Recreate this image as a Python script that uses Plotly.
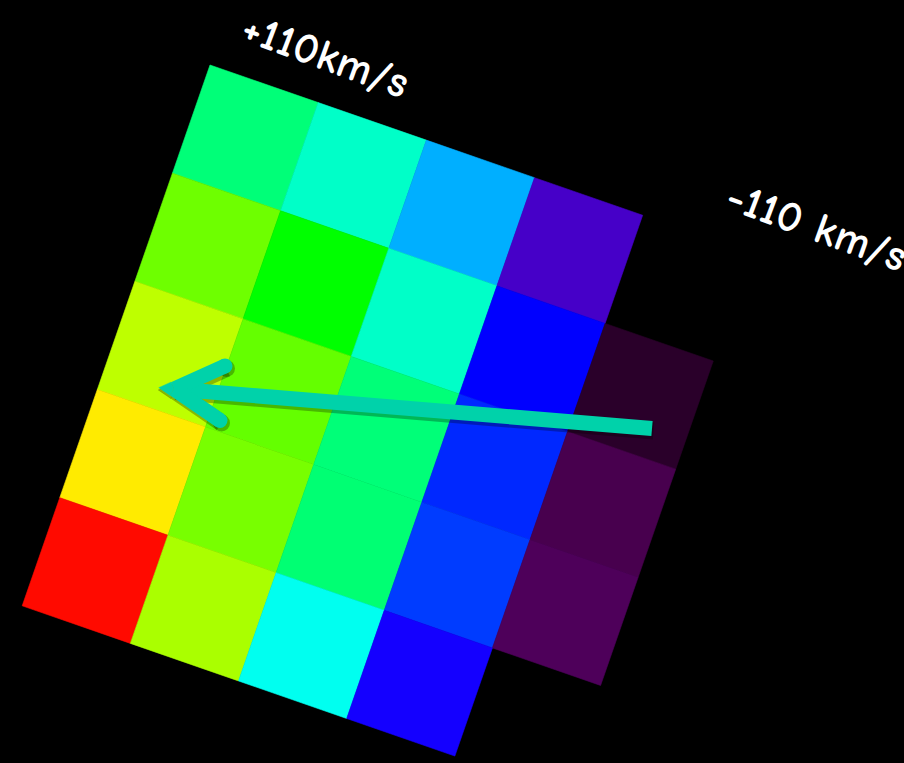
import numpy as np
import plotly.graph_objects as go

W, H = 904, 763

# Velocity-field cell colours, one list per grid row (None = empty cell)
row0 = ["#00FF78", "#00FFC8", "#00AFFF", "#4600C8", None]
row1 = ["#6EFF00", "#00FF00", "#00FFC8", "#0000FF", "#2A002A"]
row2 = ["#BEFF00", "#64FF00", "#00FF78", "#0028FF", "#48004E"]
row3 = ["#FFEB00", "#78FF00", "#00FF73", "#003CFF", "#4E005A"]
row4 = ["#FF0A00", "#AAFF00", "#00FFF0", "#1400FF", None]
grid_rows = [row0, row1, row2, row3, row4]

labels = ["+110km/s", "-110 km/s"]

# Grid placement: origin corner, cell size and tilt of the rotated map
origin = np.array([210.0, 65.0])
cell = 114.5
tilt = np.deg2rad(19.15)
col_vec = cell * np.array([np.cos(tilt), np.sin(tilt)])
row_vec = cell * np.array([-np.sin(tilt), np.cos(tilt)])


def corner(i, j):
    return origin + i * col_vec + j * row_vec


fig = go.Figure()

for j, row in enumerate(grid_rows):
    for i, color in enumerate(row):
        if color is None:
            continue
        pts = [corner(i, j), corner(i + 1, j), corner(i + 1, j + 1),
               corner(i, j + 1), corner(i, j)]
        xs = [p[0] for p in pts]
        ys = [p[1] for p in pts]
        fig.add_trace(go.Scatter(
            x=xs, y=ys, mode="lines", fill="toself",
            fillcolor=color, line=dict(color=color, width=0.6),
            hoverinfo="skip", showlegend=False))

# Arrow pointing across the velocity gradient
arrow_color = "#00D2AA"
shaft_start = np.array([652.0, 428.5])
head_vertex = np.array([174.0, 389.0])
arm_tips = [np.array([225.0, 366.0]), np.array([220.0, 420.5])]
stroke = 15.0


def unit(v):
    return v / np.linalg.norm(v)


def arrow_traces(offset, color, width_extra):
    sw = stroke + width_extra
    traces = []
    s = shaft_start + offset
    v = head_vertex + offset
    traces.append(go.Scatter(x=[s[0], v[0]], y=[s[1], v[1]], mode="lines",
                             line=dict(color=color, width=sw),
                             hoverinfo="skip", showlegend=False))
    for tip in arm_tips:
        t = tip + offset
        traces.append(go.Scatter(x=[v[0], t[0]], y=[v[1], t[1]], mode="lines",
                                 line=dict(color=color, width=sw),
                                 hoverinfo="skip", showlegend=False))
        traces.append(go.Scatter(x=[t[0]], y=[t[1]], mode="markers",
                                 marker=dict(color=color, size=sw, line=dict(width=0)),
                                 hoverinfo="skip", showlegend=False))
    # mitred point of the head
    d1 = unit(arm_tips[0] - head_vertex)
    d2 = unit(arm_tips[1] - head_vertex)
    bis = -unit(d1 + d2)
    half = np.arccos(np.clip(np.dot(d1, d2), -1, 1)) / 2
    apex = v + bis * (sw / 2) / np.sin(half)
    n1 = np.array([d1[1], -d1[0]])
    n2 = np.array([-d2[1], d2[0]])
    e1 = v + n1 * sw / 2
    e2 = v + n2 * sw / 2
    poly = [apex, e1, v, e2, apex]
    traces.append(go.Scatter(x=[p[0] for p in poly], y=[p[1] for p in poly],
                             mode="lines", fill="toself", fillcolor=color,
                             line=dict(color=color, width=0.5),
                             hoverinfo="skip", showlegend=False))
    return traces


for tr in arrow_traces(np.array([1.5, 2.5]), "rgba(0,0,0,0.28)", 2):
    fig.add_trace(tr)
for tr in arrow_traces(np.array([0.0, 0.0]), arrow_color, 0):
    fig.add_trace(tr)

label_font = dict(family="Comic Sans MS, Comic Neue, Noto Sans", size=44,
                  color="white", weight="bold")
fig.add_annotation(x=326, y=55, xref="x", yref="y", text=labels[0],
                   showarrow=False, textangle=20, font=label_font,
                   xanchor="center", yanchor="middle")
fig.add_annotation(x=817, y=226, xref="x", yref="y", text=labels[1],
                   showarrow=False, textangle=20, font=label_font,
                   xanchor="center", yanchor="middle")

fig.update_layout(
    width=W, height=H,
    margin=dict(l=0, r=0, t=0, b=0),
    paper_bgcolor="black", plot_bgcolor="black",
    xaxis=dict(range=[0, W], visible=False, fixedrange=True),
    yaxis=dict(range=[H, 0], visible=False, fixedrange=True),
    showlegend=False,
)

fig.write_html("out.html")
